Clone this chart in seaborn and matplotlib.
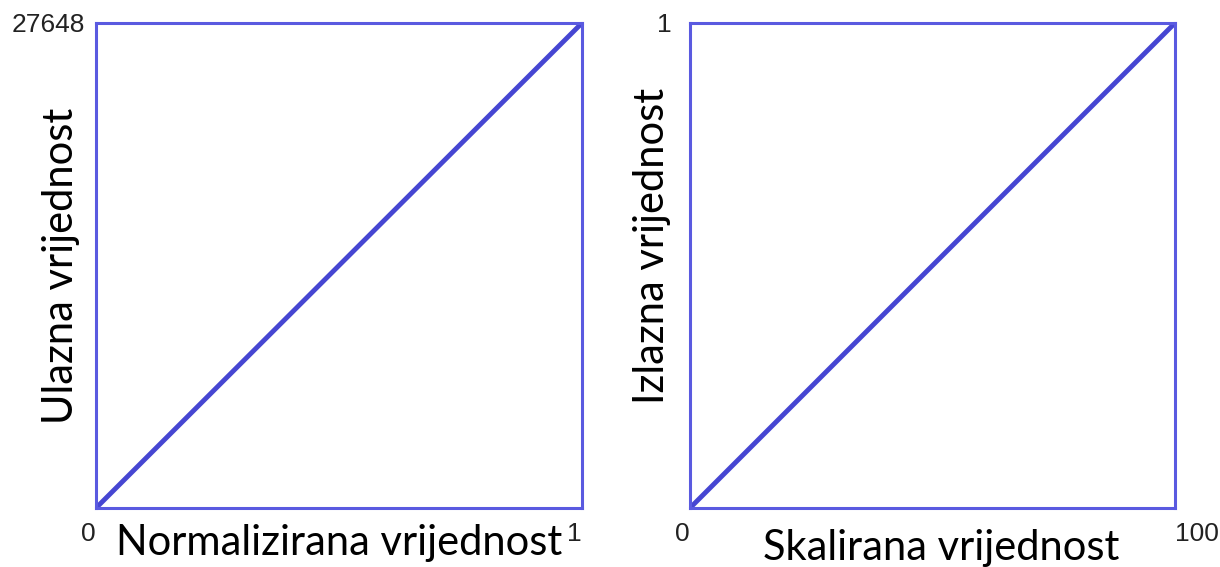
import matplotlib
matplotlib.use('Agg')
import matplotlib.pyplot as plt
import seaborn as sns
import pandas as pd

# data: linear mapping in both panels
left_x = [0, 1]
left_y = [0, 27648]
right_x = [0, 100]
right_y = [0, 1]

left_xlabel = 'Normalizirana vrijednost'
left_ylabel = 'Ulazna vrijednost'
right_xlabel = 'Skalirana vrijednost'
right_ylabel = 'Izlazna vrijednost'

sns.set_style('white')
plt.rcParams['font.family'] = ['Lato', 'DejaVu Sans']

blue = '#4646d2'
frame = '#5a5ae0'
tick_font = ['Liberation Sans', 'DejaVu Sans']

fig = plt.figure(figsize=(12.2, 5.67), dpi=100)
W, H = 1220, 567
ax1 = fig.add_axes([96 / W, 1 - 508 / H, 486 / W, 485 / H])
ax2 = fig.add_axes([690 / W, 1 - 508 / H, 485 / W, 485 / H])

panels = [
    (ax1, left_x, left_y, left_xlabel, left_ylabel, ['0', '1'], str(left_y[1])),
    (ax2, right_x, right_y, right_xlabel, right_ylabel, ['0', '100'], str(right_y[1])),
]

for ax, xs, ys, xl, yl, xtl, ytl in panels:
    df = pd.DataFrame({'x': xs, 'y': ys})
    sns.lineplot(data=df, x='x', y='y', ax=ax, color=blue, linewidth=3.5)
    ax.set_xlim(xs[0], xs[1])
    ax.set_ylim(ys[0], ys[1])
    for s in ax.spines.values():
        s.set_color(frame)
        s.set_linewidth(2.2)
    ax.set_xticks(xs)
    ax.set_xticklabels(xtl, fontsize=19, color='#222222', family=tick_font)
    ax.set_yticks([ys[1]])
    ax.set_yticklabels([ytl], fontsize=19, color='#222222', family=tick_font)
    ax.tick_params(axis='both', length=0)
    ax.tick_params(axis='x', pad=10)
    ax.set_xlabel(xl, fontsize=30, color='black', va='center')
    ax.set_ylabel(yl, fontsize=30, color='black', va='center')

# label and tick positions like the original drawing
ax1.tick_params(axis='y', pad=8)
ax2.tick_params(axis='y', pad=13)
ax1.xaxis.set_label_coords(0.5, -0.072)
ax1.yaxis.set_label_coords(-0.072, 0.499)
ax2.xaxis.set_label_coords(0.518, -0.082)
ax2.yaxis.set_label_coords(-0.078, 0.54)

for lab in ax1.get_xticklabels():
    lab.set_horizontalalignment('right')
labs = ax2.get_xticklabels()
labs[0].set_horizontalalignment('right')
labs[1].set_horizontalalignment('left')

fig.savefig('out.png', dpi=100, facecolor='white')
